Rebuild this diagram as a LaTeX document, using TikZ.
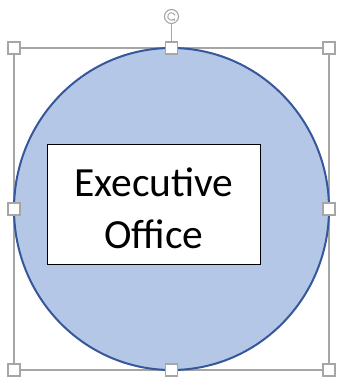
\documentclass[tikz,border=0pt]{standalone}
\usepackage{fontspec}
\setmainfont{Carlito}
\usetikzlibrary{arrows.meta,shapes.geometric}
\definecolor{shapefill}{HTML}{B4C7E7}
\definecolor{shapeline}{HTML}{36579A}
\definecolor{selgray}{HTML}{A6A6A6}
\tikzset{
  handle/.style={draw=selgray, fill=white, line width=1.3pt, minimum size=12pt, inner sep=0pt, rectangle},
  selline/.style={draw=selgray, line width=1.2pt},
  labelbox/.style={draw=black, fill=white, line width=1pt, minimum width=213pt, minimum height=119pt, inner sep=0pt},
  labeltext/.style={align=center, font=\fontsize{41.5}{52}\selectfont, inner sep=0pt}
}
\begin{document}
\begin{tikzpicture}[x=1pt,y=-1pt]
\useasboundingbox (0,0) rectangle (337,382);
% selection frame
\coordinate (tl) at (14,48);
\coordinate (tr) at (329,48);
\coordinate (bl) at (14,370);
\coordinate (br) at (329,370);
\draw[selline] (tl) rectangle (br);
% circle shape
\node (circ) [draw=shapeline, fill=shapefill, line width=2pt, ellipse, minimum width=315pt, minimum height=322pt, inner sep=0pt] at (171.5,209) {};
% label box
\node (box) [labelbox] at (154,204.5) {};
\node (txt) [labeltext] at ([yshift=-3.5pt]box.center) {Executive\\Office};
% rotation handle
\node (rot) [draw=selgray, fill=white, line width=1.1pt, circle, minimum size=14pt, inner sep=0pt] at (171.5,16.5) {};
\draw[selline] (rot.south) -- (171.5,48);
\draw[selgray, line width=1pt, -{Stealth[length=2.5pt,width=3.2pt]}] ([shift={(20:3.8pt)}]rot.center) arc[start angle=20, end angle=330, radius=3.8pt];
% handles
\node (h1) [handle] at (tl) {};
\node (h2) [handle] at (171.5,48) {};
\node (h3) [handle] at (tr) {};
\node (h4) [handle] at (14,209) {};
\node (h5) [handle] at (329,209) {};
\node (h6) [handle] at (bl) {};
\node (h7) [handle] at (171.5,370) {};
\node (h8) [handle] at (br) {};
\end{tikzpicture}
\end{document}
